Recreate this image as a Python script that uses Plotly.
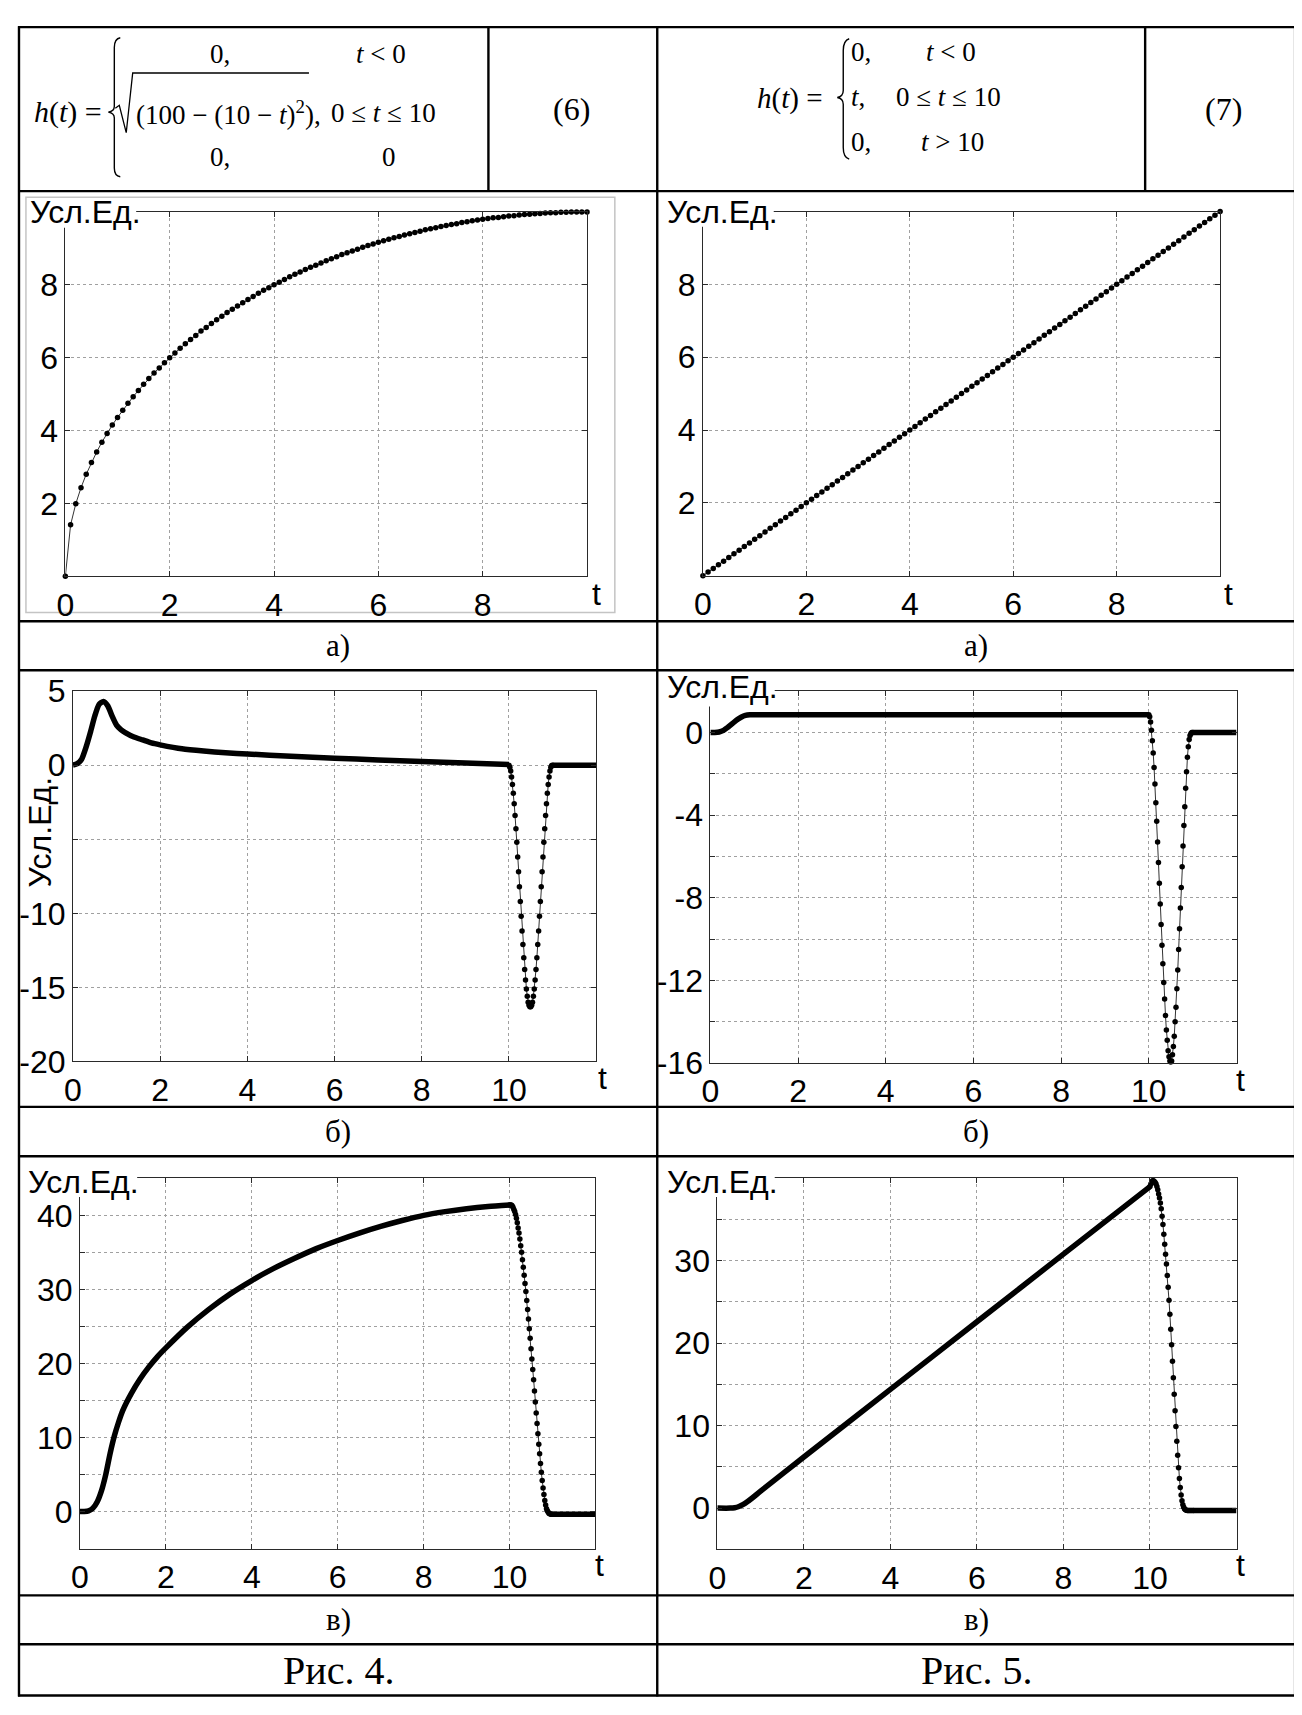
import plotly.graph_objects as go

# The page keeps the browser's 8px body margin: the figure is drawn at the
# window size and every position below is given in window pixels, shifted
# back by that margin.
W, H = 1302, 1715
OFF = 8

# ---------------- data ----------------
T_A = [0.0, 0.1, 0.2, 0.3, 0.4, 0.5, 0.6, 0.7, 0.8, 0.9,
       1.0, 1.1, 1.2, 1.3, 1.4, 1.5, 1.6, 1.7, 1.8, 1.9,
       2.0, 2.1, 2.2, 2.3, 2.4, 2.5, 2.6, 2.7, 2.8, 2.9,
       3.0, 3.1, 3.2, 3.3, 3.4, 3.5, 3.6, 3.7, 3.8, 3.9,
       4.0, 4.1, 4.2, 4.3, 4.4, 4.5, 4.6, 4.7, 4.8, 4.9,
       5.0, 5.1, 5.2, 5.3, 5.4, 5.5, 5.6, 5.7, 5.8, 5.9,
       6.0, 6.1, 6.2, 6.3, 6.4, 6.5, 6.6, 6.7, 6.8, 6.9,
       7.0, 7.1, 7.2, 7.3, 7.4, 7.5, 7.6, 7.7, 7.8, 7.9,
       8.0, 8.1, 8.2, 8.3, 8.4, 8.5, 8.6, 8.7, 8.8, 8.9,
       9.0, 9.1, 9.2, 9.3, 9.4, 9.5, 9.6, 9.7, 9.8, 9.9,
       10.0]

H_4A = [0.00, 1.41, 1.99, 2.43, 2.80, 3.12, 3.41, 3.68, 3.92, 4.15,
        4.36, 4.56, 4.75, 4.93, 5.10, 5.27, 5.43, 5.58, 5.72, 5.86,
        6.00, 6.13, 6.26, 6.38, 6.50, 6.61, 6.73, 6.83, 6.94, 7.04,
        7.14, 7.24, 7.33, 7.42, 7.51, 7.60, 7.68, 7.77, 7.85, 7.92,
        8.00, 8.07, 8.15, 8.22, 8.29, 8.35, 8.42, 8.48, 8.54, 8.60,
        8.66, 8.72, 8.77, 8.83, 8.88, 8.93, 8.98, 9.03, 9.08, 9.12,
        9.17, 9.21, 9.25, 9.29, 9.33, 9.37, 9.40, 9.44, 9.47, 9.51,
        9.54, 9.57, 9.60, 9.63, 9.66, 9.68, 9.71, 9.73, 9.76, 9.78,
        9.80, 9.82, 9.84, 9.85, 9.87, 9.89, 9.90, 9.92, 9.93, 9.94,
        9.95, 9.96, 9.97, 9.98, 9.98, 9.99, 9.99, 10.00, 10.00, 10.00,
        10.00]

H_5A = [0.0, 0.1, 0.2, 0.3, 0.4, 0.5, 0.6, 0.7, 0.8, 0.9,
        1.0, 1.1, 1.2, 1.3, 1.4, 1.5, 1.6, 1.7, 1.8, 1.9,
        2.0, 2.1, 2.2, 2.3, 2.4, 2.5, 2.6, 2.7, 2.8, 2.9,
        3.0, 3.1, 3.2, 3.3, 3.4, 3.5, 3.6, 3.7, 3.8, 3.9,
        4.0, 4.1, 4.2, 4.3, 4.4, 4.5, 4.6, 4.7, 4.8, 4.9,
        5.0, 5.1, 5.2, 5.3, 5.4, 5.5, 5.6, 5.7, 5.8, 5.9,
        6.0, 6.1, 6.2, 6.3, 6.4, 6.5, 6.6, 6.7, 6.8, 6.9,
        7.0, 7.1, 7.2, 7.3, 7.4, 7.5, 7.6, 7.7, 7.8, 7.9,
        8.0, 8.1, 8.2, 8.3, 8.4, 8.5, 8.6, 8.7, 8.8, 8.9,
        9.0, 9.1, 9.2, 9.3, 9.4, 9.5, 9.6, 9.7, 9.8, 9.9,
        10.0]

# trough sampling grid (visible, separated dots)
T_TR = [10.00, 10.02, 10.04, 10.06, 10.08, 10.10, 10.12, 10.14, 10.16, 10.18,
        10.20, 10.22, 10.24, 10.26, 10.28, 10.30, 10.32, 10.34, 10.36, 10.38,
        10.40, 10.42, 10.44, 10.46, 10.48, 10.50, 10.52, 10.54, 10.56, 10.58,
        10.60, 10.62, 10.64, 10.66, 10.68, 10.70, 10.72, 10.74, 10.76, 10.78,
        10.80, 10.82, 10.84, 10.86, 10.88, 10.90, 10.92, 10.94, 10.96, 10.98,
        11.00]

# Fig.4 b
T_4B = [0, 0.1, 0.2, 0.3, 0.4, 0.5, 0.6, 0.7, 0.8, 0.9, 1.0, 1.1, 1.2, 1.4, 1.6,
        1.8, 2.0, 2.5, 3.0, 3.5, 4.0, 5.0, 6.0, 7.0, 8.0, 9.0, 10.0]
V_4B = [0, 0.1, 0.4, 1.2, 2.2, 3.3, 4.1, 4.3, 4.0, 3.3, 2.7, 2.4, 2.2, 1.9, 1.7,
        1.5, 1.37, 1.1, 0.95, 0.84, 0.75, 0.6, 0.47, 0.35, 0.24, 0.14, 0.05]
V_4B_TR = [0, -0.15, -0.4, -0.8, -1.3, -1.9, -2.6, -3.4, -4.3, -5.2,
           -6.2, -7.2, -8.2, -9.2, -10.2, -11.2, -12.1, -13.0, -13.8, -14.5,
           -15.1, -15.6, -16.0, -16.2, -16.3, -16.3, -16.2, -16.0, -15.6, -15.1,
           -14.5, -13.8, -13.0, -12.1, -11.2, -10.2, -9.2, -8.2, -7.2, -6.2,
           -5.2, -4.3, -3.4, -2.6, -1.9, -1.3, -0.8, -0.4, -0.15, -0.03,
           0]
T_4B_TAIL = [11.0, 12.0]
V_4B_TAIL = [0, 0]

# Fig.5 b
T_5B = [0, 0.1, 0.2, 0.3, 0.4, 0.5, 0.6, 0.7, 0.8, 0.9, 1.0, 10.0]
V_5B = [0, 0, 0.02, 0.1, 0.25, 0.42, 0.6, 0.73, 0.82, 0.85, 0.85, 0.85]
V_5B_TR = [0.85, 0.75, 0.5, 0.1, -0.4, -1.0, -1.7, -2.5, -3.4, -4.3,
           -5.3, -6.3, -7.3, -8.3, -9.3, -10.3, -11.2, -12.1, -12.9, -13.7,
           -14.4, -14.9, -15.4, -15.7, -15.9, -15.95, -15.9, -15.6, -15.2, -14.7,
           -14.0, -13.3, -12.4, -11.5, -10.5, -9.5, -8.5, -7.5, -6.5, -5.5,
           -4.5, -3.6, -2.7, -1.9, -1.2, -0.7, -0.35, -0.15, -0.05, 0,
           0]
T_5B_TAIL = [11.0, 12.0]
V_5B_TAIL = [0, 0]

# Fig.4 v
T_4V = [0, 0.1, 0.2, 0.3, 0.4, 0.5, 0.6, 0.7, 0.8, 0.9, 1.0, 1.2, 1.4, 1.6, 1.8,
        2.0, 2.5, 3.0, 3.5, 4.0, 4.5, 5.0, 5.5, 6.0, 6.5, 7.0, 7.5, 8.0, 8.5,
        9.0, 9.5, 10.0]
V_4V = [0, 0.02, 0.1, 0.45, 1.3, 2.8, 5.0, 7.8, 10.2, 12.1, 13.7, 16.0, 17.9, 19.5, 20.9,
        22.1, 24.9, 27.3, 29.4, 31.2, 32.8, 34.2, 35.5, 36.6, 37.6, 38.5, 39.3, 40.0, 40.5,
        40.9, 41.2, 41.4]
V_4V_TR = [41.4, 41.4, 41.4, 41.3, 41.1, 40.8, 40.5, 40.1, 39.6, 39.0,
           38.3, 37.6, 36.8, 35.9, 35.0, 34.0, 33.0, 31.9, 30.8, 29.7,
           28.5, 27.3, 26.0, 24.7, 23.4, 22.0, 20.6, 19.2, 17.8, 16.3,
           14.8, 13.3, 11.9, 10.5, 9.1, 7.8, 6.5, 5.3, 4.2, 3.2,
           2.3, 1.5, 0.9, 0.4, 0.1, -0.1, -0.25, -0.3, -0.35, -0.35,
           -0.35]
T_4V_TAIL = [11.0, 12.0]
V_4V_TAIL = [-0.35, -0.35]

# Fig.5 v
T_5V = [0, 0.3, 0.4, 0.5, 0.6, 0.7, 0.8, 0.9, 1.0, 2.0, 4.0, 6.0, 8.0, 10.0]
V_5V = [0, 0, 0.05, 0.2, 0.45, 0.8, 1.2, 1.62, 2.05, 6.2, 14.4, 22.6, 30.8, 39.0]
V_5V_TR = [39.0, 39.3, 39.5, 39.7, 39.7, 39.6, 39.5, 39.3, 39.0, 38.6,
           38.1, 37.6, 37.0, 36.3, 35.4, 34.4, 33.2, 32.0, 30.8, 29.6,
           28.2, 26.8, 25.2, 23.5, 21.7, 19.8, 17.8, 15.8, 13.8, 11.8,
           9.9, 8.1, 6.4, 4.9, 3.6, 2.5, 1.6, 0.9, 0.4, 0.1,
           -0.1, -0.2, -0.25, -0.3, -0.3, -0.3, -0.3, -0.3, -0.3, -0.3,
           -0.3]
T_5V_TAIL = [11.0, 12.0]
V_5V_TAIL = [-0.3, -0.3]

# tick labels (major = labelled, minor = unlabelled grid lines)
XT_A = [0, 2, 4, 6, 8]
XL_A = ['0', '2', '4', '6', '8']
XT_BV = [0, 2, 4, 6, 8, 10]
XL_BV = ['0', '2', '4', '6', '8', '10']
YT_A = [2, 4, 6, 8]
YL_A = ['2', '4', '6', '8']
YM_A = []
YT_4B = [5, 0, -10, -15, -20]
YL_4B = ['5', '0', '-10', '-15', '-20']
YM_4B = [-5]
YT_5B = [0, -4, -8, -12, -16]
YL_5B = ['0', '-4', '-8', '-12', '-16']
YM_5B = [2, -2, -6, -10, -14]
YT_4V = [0, 10, 20, 30, 40]
YL_4V = ['0', '10', '20', '30', '40']
YM_4V = [-5, 5, 15, 25, 35, 45]
YT_5V = [0, 10, 20, 30]
YL_5V = ['0', '10', '20', '30']
YM_5V = [-5, 5, 15, 25, 35, 40]

# ---------------- helpers ----------------
SANS = 'Liberation Sans, Arial, sans-serif'
SERIF = 'Liberation Serif, Times New Roman, serif'


def fx(x):
    return (x - OFF) / W


def fy(y):
    return 1 - (y - OFF) / H


panels = [
    # x px domain, y px domain (top,bottom), xrange, yrange, xt, xl, yt, yl, yminor
    ((56.7, 582.0), (198.0, 570.0), [0, 10], [0, 10], XT_A, XL_A, YT_A, YL_A, YM_A),
    ((698.7, 1219.5), (197.5, 569.5), [0, 10], [0, 10], XT_A, XL_A, YT_A, YL_A, YM_A),
    ((64.3, 591.2), (687.3, 1065.7), [0, 12], [-20, 5], XT_BV, XL_BV, YT_4B, YL_4B, YM_4B),
    ((706.2, 1236.0), (687.3, 1067.3), [0, 12], [-16, 2], XT_BV, XL_BV, YT_5B, YL_5B, YM_5B),
    ((71.4, 590.5), (1185.0, 1563.3), [0, 12], [-5, 45], XT_BV, XL_BV, YT_4V, YL_4V, YM_4V),
    ((713.2, 1236.0), (1185.0, 1564.0), [0, 12], [-5, 40], XT_BV, XL_BV, YT_5V, YL_5V, YM_5V),
]

TICK_FS = 32
GRID = '#a0a0a0'
AXC = '#2a2a2a'

fig = go.Figure()

common = dict(showline=True, linecolor=AXC, linewidth=1, mirror='ticks',
              ticks='inside', ticklen=5, tickcolor=AXC, tickwidth=1,
              showgrid=True, gridcolor=GRID, griddash='dot', gridwidth=1,
              zeroline=False, fixedrange=True, tickmode='array',
              tickfont=dict(family=SANS, size=TICK_FS, color='black'))

for i, (xd, yd, xr, yr, xt, xl, yt, yl, ym) in enumerate(panels, start=1):
    sfx = '' if i == 1 else str(i)
    fig.layout['xaxis' + sfx] = dict(common, domain=[fx(xd[0]), fx(xd[1])], range=xr,
                                     tickvals=xt, ticktext=xl, anchor='y' + sfx)
    ydict = dict(common, domain=[fy(yd[1]), fy(yd[0])], range=yr,
                 tickvals=yt, ticktext=yl, anchor='x' + sfx)
    if ym:
        ydict['minor'] = dict(tickmode='array', tickvals=ym, ticks='inside', ticklen=5,
                              tickcolor=AXC, showgrid=True, gridcolor=GRID, griddash='dot',
                              gridwidth=1)
    fig.layout['yaxis' + sfx] = ydict

MK = dict(color='black', size=5.5)


def dots(x, y, n):
    sfx = '' if n == 1 else str(n)
    return go.Scatter(x=x, y=y, mode='lines+markers', xaxis='x' + sfx, yaxis='y' + sfx,
                      line=dict(color='#333333', width=1), marker=MK,
                      cliponaxis=False, hoverinfo='skip')


def thick(x, y, n):
    sfx = '' if n == 1 else str(n)
    return go.Scatter(x=x, y=y, mode='lines', xaxis='x' + sfx, yaxis='y' + sfx,
                      line=dict(color='black', width=5.5, shape='spline', smoothing=0.6),
                      hoverinfo='skip')


fig.add_trace(dots(T_A, H_4A, 1))
fig.add_trace(dots(T_A, H_5A, 2))

fig.add_trace(thick(T_4B, V_4B, 3))
fig.add_trace(thick(T_4B_TAIL, V_4B_TAIL, 3))
fig.add_trace(dots(T_TR, V_4B_TR, 3))

fig.add_trace(thick(T_5B, V_5B, 4))
fig.add_trace(thick(T_5B_TAIL, V_5B_TAIL, 4))
fig.add_trace(dots(T_TR, V_5B_TR, 4))

fig.add_trace(thick(T_4V, V_4V, 5))
fig.add_trace(thick(T_4V_TAIL, V_4V_TAIL, 5))
fig.add_trace(dots(T_TR, V_4V_TR, 5))

fig.add_trace(thick(T_5V, V_5V, 6))
fig.add_trace(thick(T_5V_TAIL, V_5V_TAIL, 6))
fig.add_trace(dots(T_TR, V_5V_TR, 6))

# ---------------- shapes ----------------
shapes = []

# light-gray frame of the first embedded chart
shapes.append(dict(type='rect', xref='paper', yref='paper', x0=fx(17), x1=fx(610),
                   y0=fy(607), y1=fy(183), line=dict(color='#c4c4c4', width=1.5),
                   layer='below'))

# white masks where the unit label sits over the axes corner
for (x0, x1, y0, y1) in [(19, 128, 185, 214), (661, 770, 185, 213),
                         (661, 771, 670, 703), (17, 129, 1170, 1204),
                         (661, 771, 1170, 1204)]:
    shapes.append(dict(type='rect', xref='paper', yref='paper', x0=fx(x0), x1=fx(x1),
                       y0=fy(y1), y1=fy(y0), line=dict(width=0), fillcolor='white',
                       layer='above'))

LW = 2.4


def hline(y, x0, x1):
    shapes.append(dict(type='line', xref='paper', yref='paper', x0=fx(x0), x1=fx(x1),
                       y0=fy(y), y1=fy(y), line=dict(color='black', width=LW)))


def vline(x, y0, y1):
    shapes.append(dict(type='line', xref='paper', yref='paper', x0=fx(x), x1=fx(x),
                       y0=fy(y0), y1=fy(y1), line=dict(color='black', width=LW)))


L, R, T, B = 10, 1295, 9.2, 1713.3
for y in [T, 176.7, 616, 666, 1112, 1162.5, 1611, 1661, B]:
    hline(y, L - 1, R + 1)
for x in [L, 652.7, R]:
    vline(x, T - 1, B + 1)
vline(482.7, T, 176.7)
vline(1144, T, 176.7)


def path(cmds, width=1.4):
    parts = []
    for c, pts in cmds:
        parts.append(c + ' ' + ' '.join('%.6f,%.6f' % (fx(a), fy(b)) for a, b in pts))
    shapes.append(dict(type='path', xref='paper', yref='paper', path=' '.join(parts),
                       line=dict(color='black', width=width)))


# brace (6)
path([('M', [(112, 20)]), ('Q', [(106, 21), (106, 30)]), ('L', [(106, 90)]),
      ('Q', [(106, 95), (100, 96)]), ('Q', [(106, 97), (106, 102)]), ('L', [(106, 153)]),
      ('Q', [(106, 161), (112, 162)])])
# radical (6)
path([('M', [(107, 92)]), ('L', [(111, 89)]), ('L', [(118, 117)]),
      ('L', [(124.5, 56)]), ('L', [(302, 56)])], width=1.3)
# brace (7)
path([('M', [(846, 21)]), ('Q', [(840, 23), (840, 33)]), ('L', [(840, 74)]),
      ('Q', [(840, 80), (834, 81)]), ('Q', [(840, 82), (840, 88)]), ('L', [(840, 132)]),
      ('Q', [(840, 142), (846, 144)])])

fig.update_layout(shapes=shapes)

# ---------------- texts ----------------
ann = []


def txt(x, y, s, size, fam=SERIF, xa='center', ya='middle', angle=0):
    ann.append(dict(x=fx(x), y=fy(y), xref='paper', yref='paper', text=s, showarrow=False,
                    xanchor=xa, yanchor=ya, textangle=angle,
                    font=dict(family=fam, size=size, color='black')))


FS = 27
# formula (6)
txt(59, 96, '<i>h</i>(<i>t</i>) =', 30)
txt(212.5, 37, '0,', FS)
txt(374.5, 37, '<i>t</i> &lt; 0', FS)
txt(126, 97, '(100 − (10 − <i>t</i>)<sup>2</sup>),', FS, xa='left')
txt(377.5, 97, '0 ≤ <i>t</i> ≤ 10', FS)
txt(212.5, 142, '0,', FS)
txt(382.5, 142, '0', FS)
txt(566.7, 93, '(6)', 32)
# formula (7)
txt(786.5, 82, '<i>h</i>(<i>t</i>) =', 29)
txt(846, 35, '0,', FS, xa='left')
txt(948, 35, '<i>t</i> &lt; 0', FS)
txt(846, 81, '<i>t</i>,', FS, xa='left')
txt(946, 81, '0 ≤ <i>t</i> ≤ 10', FS)
txt(846, 126, '0,', FS, xa='left')
txt(950, 126, '<i>t</i> &gt; 10', FS)
txt(1222.6, 93, '(7)', 32)

# captions
CAP = 31
txt(331.4, 641, 'а)', CAP)
txt(973.9, 641, 'а)', CAP)
txt(331.4, 1137, 'б)', CAP)
txt(973.9, 1137, 'б)', CAP)
txt(331.4, 1636, 'в)', CAP)
txt(973.9, 1636, 'в)', CAP)
txt(331.4, 1688, 'Рис. 4.', 40)
txt(973.9, 1688, 'Рис. 5.', 40)

# axis unit labels
UL = 32
txt(19, 198, 'Усл.Ед.', UL, fam=SANS, xa='left')
txt(661, 198, 'Усл.Ед.', UL, fam=SANS, xa='left')
txt(661, 683, 'Усл.Ед.', UL, fam=SANS, xa='left')
txt(17, 1189, 'Усл.Ед.', UL, fam=SANS, xa='left')
txt(661, 1189, 'Усл.Ед.', UL, fam=SANS, xa='left')
txt(31, 831, 'Усл.Ед.', UL, fam=SANS, angle=-90)

# "t" axis labels
TF = TICK_FS
txt(592, 588, 't', TF, fam=SANS)
txt(1228, 588, 't', TF, fam=SANS)
txt(597.5, 1083, 't', TF, fam=SANS)
txt(1240, 1085, 't', TF, fam=SANS)
txt(595, 1580, 't', TF, fam=SANS)
txt(1240, 1580, 't', TF, fam=SANS)

fig.update_layout(annotations=ann, width=W, height=H, autosize=False,
                  margin=dict(l=0, r=0, t=0, b=0), showlegend=False,
                  plot_bgcolor='white', paper_bgcolor='white')

fig.write_html("out.html", config={'displayModeBar': False})
